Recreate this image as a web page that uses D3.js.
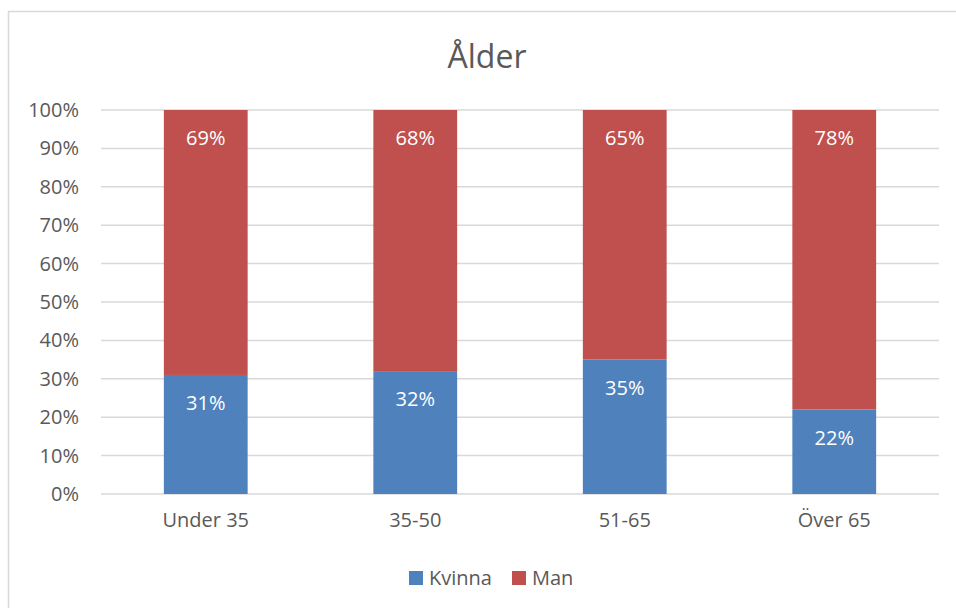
<!DOCTYPE html>
<html>
<head>
<meta charset="utf-8">
<script src="https://cdn.jsdelivr.net/npm/d3@7"></script>
<style>
  body { margin: 0; background: #fff; }
  svg text { font-family: "Open Sans", sans-serif; }
</style>
</head>
<body>
<svg width="956" height="608"></svg>
<script>
const categories = ['Under 35', '35-50', '51-65', 'Över 65'];
const kvinna = [0.31, 0.32, 0.35, 0.22];
const man = [0.69, 0.68, 0.65, 0.78];
const yTicks = [0, 0.1, 0.2, 0.3, 0.4, 0.5, 0.6, 0.7, 0.8, 0.9, 1];

const plotL = 101, plotR = 939, plotT = 110, plotB = 494;
const blue = '#4f81bd', red = '#c0504d', grey = '#595959';

const svg = d3.select('svg')

// chart border (right/bottom edge runs off the page)
svg.append('rect')
  .attr('x', 8.5).attr('y', 11.5)
  .attr('width', 980).attr('height', 640)
  .attr('fill', 'none')
  .attr('stroke', '#d9d9d9')
  .attr('stroke-width', 1.5)

svg.append('text')
  .attr('x', 487).attr('y', 68)
  .attr('text-anchor', 'middle')
  .attr('font-size', 32)
  .attr('fill', grey)
  .text('Ålder')

const x = d3.scaleBand().domain(categories).range([plotL, plotR]).padding(0)
const y = d3.scaleLinear().domain([0, 1]).range([plotB, plotT])
const barW = x.bandwidth() * 0.4;

// gridlines
svg.append('g')
  .selectAll('line')
  .data(yTicks)
  .enter()
  .append('line')
  .attr('x1', plotL).attr('x2', plotR)
  .attr('y1', d => y(d)).attr('y2', d => y(d))
  .attr('stroke', '#d9d9d9')
  .attr('stroke-width', 1.5)

// y axis labels
const yAxis = d3.axisLeft(y).tickValues(yTicks).tickFormat(d3.format('.0%')).tickSize(0).tickPadding(22)
const gy = svg.append('g').attr('transform', `translate(${plotL},0)`).call(yAxis)
gy.select('.domain').remove()
gy.selectAll('text').attr('font-size', 20).attr('fill', grey).attr('font-family', '"Open Sans", sans-serif')

// x axis labels
const xAxis = d3.axisBottom(x).tickSize(0).tickPadding(19)
const gx = svg.append('g').attr('transform', `translate(0,${plotB})`).call(xAxis)
gx.select('.domain').remove()
gx.selectAll('text').attr('font-size', 20).attr('fill', grey).attr('font-family', '"Open Sans", sans-serif')

const rows = categories.map((c, i) => ({ cat: c, k: kvinna[i], m: man[i] }))

// bars
const bars = svg.append('g')
bars.selectAll('.k')
  .data(rows).enter().append('rect')
  .attr('class', 'k')
  .attr('x', d => x(d.cat) + (x.bandwidth() - barW) / 2)
  .attr('y', d => y(d.k))
  .attr('width', barW)
  .attr('height', d => y(0) - y(d.k))
  .attr('fill', blue)
bars.selectAll('.m')
  .data(rows).enter().append('rect')
  .attr('class', 'm')
  .attr('x', d => x(d.cat) + (x.bandwidth() - barW) / 2)
  .attr('y', d => y(d.k + d.m))
  .attr('width', barW)
  .attr('height', d => y(d.k) - y(d.k + d.m))
  .attr('fill', red)

// data labels (inside end)
const fmt = d3.format('.0%')
const labels = svg.append('g').attr('font-size', 20).attr('fill', '#fff').attr('text-anchor', 'middle')
labels.selectAll('.lk')
  .data(rows).enter().append('text')
  .attr('x', d => x(d.cat) + x.bandwidth() / 2)
  .attr('y', d => y(d.k) + 35)
  .text(d => fmt(d.k))
labels.selectAll('.lm')
  .data(rows).enter().append('text')
  .attr('x', d => x(d.cat) + x.bandwidth() / 2)
  .attr('y', d => y(d.k + d.m) + 35)
  .text(d => fmt(d.m))

// legend
const legend = [{ name: 'Kvinna', color: blue, x: 409 }, { name: 'Man', color: red, x: 512 }]
const lg = svg.append('g')
lg.selectAll('rect')
  .data(legend).enter().append('rect')
  .attr('x', d => d.x).attr('y', 571)
  .attr('width', 14).attr('height', 14)
  .attr('fill', d => d.color)
lg.selectAll('text')
  .data(legend).enter().append('text')
  .attr('x', d => d.x + 20).attr('y', 585)
  .attr('font-size', 20).attr('fill', grey)
  .text(d => d.name)
</script>
</body>
</html>
